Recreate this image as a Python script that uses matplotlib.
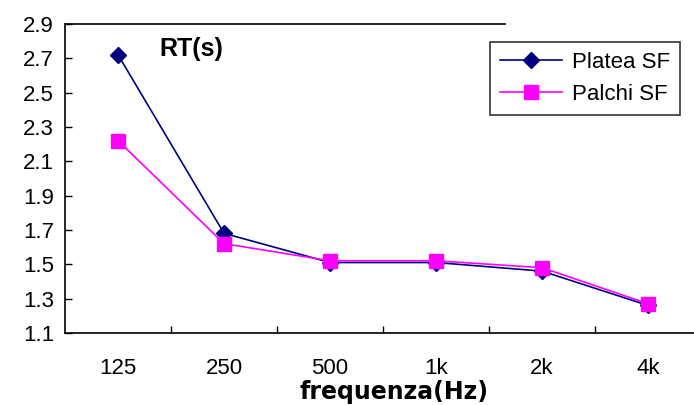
import matplotlib
matplotlib.use("Agg")
import matplotlib.pyplot as plt
from matplotlib.transforms import blended_transform_factory

plt.rcParams['font.family'] = ['Liberation Sans', 'DejaVu Sans']

bands = ["125", "250", "500", "1k", "2k", "4k"]
platea_sf = [2.72, 1.68, 1.51, 1.51, 1.46, 1.26]
palchi_sf = [2.22, 1.62, 1.52, 1.52, 1.48, 1.27]
yticks = [1.1, 1.3, 1.5, 1.7, 1.9, 2.1, 2.3, 2.5, 2.7, 2.9]

fig = plt.figure(figsize=(6.94, 4.05), dpi=100)
ax = fig.add_axes([0.0937, 0.178, 0.9164, 0.763])

x = list(range(len(bands)))
ax.plot(x, platea_sf, color='#000080', marker='D', markersize=8, linewidth=1.2,
        label='Platea SF', zorder=3)
ax.plot(x, palchi_sf, color='#FF00FF', marker='s', markersize=10, linewidth=1.2,
        label='Palchi SF', zorder=4)

ax.set_xlim(-0.5, len(bands) - 0.5)
ax.set_ylim(1.1, 2.9)
ax.set_yticks(yticks)
ax.set_yticklabels([f"{v:.1f}" for v in yticks], fontsize=16)
ax.set_xticks(x)
ax.set_xticklabels(bands, fontsize=16)
ax.set_xticks([i + 0.5 for i in x[:-1]], minor=True)
ax.tick_params(axis='x', which='major', length=0, pad=18)
ax.tick_params(axis='x', which='minor', direction='in', length=5, width=1)
ax.tick_params(axis='y', direction='in', length=5, width=1, pad=8)

for side in ('top', 'right'):
    ax.spines[side].set_visible(False)
for side in ('left', 'bottom'):
    ax.spines[side].set_linewidth(1.2)

# partial top border of the plot area
trans = blended_transform_factory(ax.transAxes, ax.transData)
ax.plot([0, 0.692], [2.9, 2.9], color='black', linewidth=1.2, transform=trans,
        clip_on=False)

ax.set_xlabel("frequenza(Hz)", fontsize=17, fontweight='bold',
              family=['DejaVu Sans'])
ax.xaxis.label.set_va('center')
ax.xaxis.set_label_coords(0.517, -0.19)
ax.text(0.149, 0.918, "RT(s)", transform=ax.transAxes, fontsize=18,
        fontweight='bold', va='center')

leg = ax.legend(loc='upper left', bbox_to_anchor=(0.706, 0.896),
                bbox_transform=fig.transFigure, borderaxespad=0, fontsize=16,
                frameon=True, fancybox=False, edgecolor='black', borderpad=0.45,
                handlelength=2.8, handletextpad=0.45, labelspacing=0.5)
leg.get_frame().set_linewidth(1.2)

fig.savefig("out.png", dpi=100)
